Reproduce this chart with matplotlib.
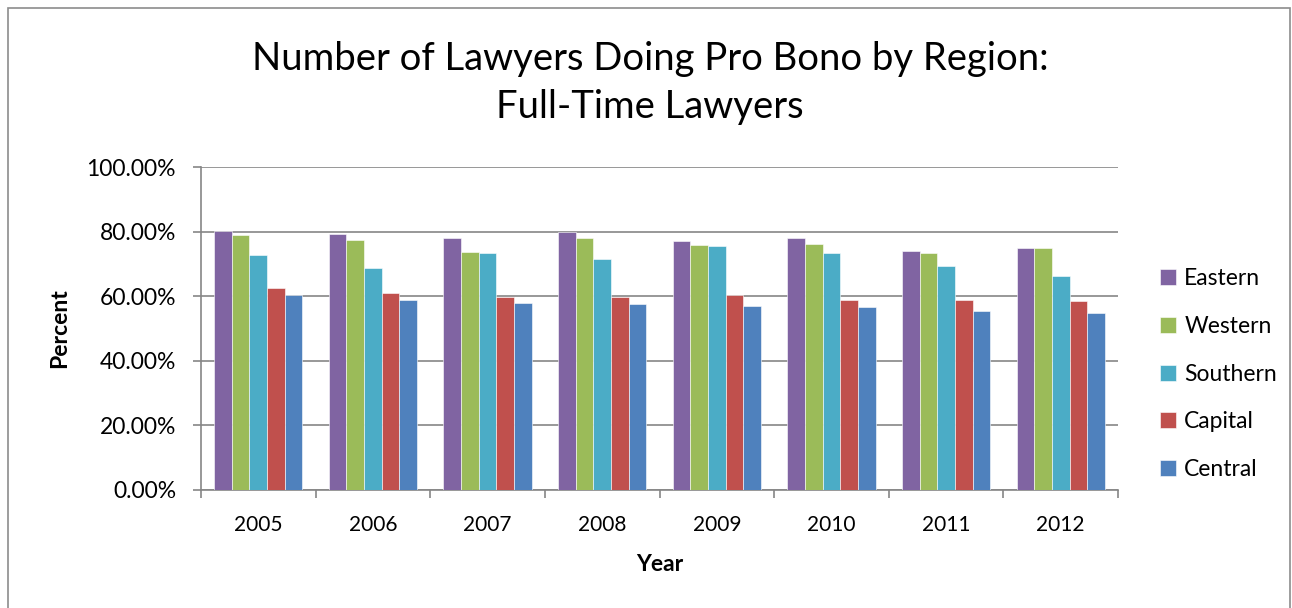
import numpy as np
import matplotlib.pyplot as plt
from matplotlib.ticker import FuncFormatter, FixedLocator
from matplotlib.patches import Rectangle

plt.rcParams['font.family'] = ['Lato', 'DejaVu Sans']

years = ["2005", "2006", "2007", "2008", "2009", "2010", "2011", "2012"]
regions = ["Eastern", "Western", "Southern", "Capital", "Central"]
eastern = [80.2, 79.4, 78.1, 80.0, 77.1, 78.1, 74.1, 74.9]
western = [78.9, 77.5, 73.8, 78.0, 75.9, 76.3, 73.4, 74.9]
southern = [72.8, 68.7, 73.3, 71.4, 75.4, 73.5, 69.3, 66.1]
capital = [62.6, 61.0, 59.8, 59.8, 60.3, 58.8, 58.8, 58.6]
central = [60.4, 58.8, 57.9, 57.5, 56.9, 56.8, 55.3, 54.7]
series = [eastern, western, southern, capital, central]
colors = ["#8064A2", "#9BBB59", "#4BACC6", "#C0504D", "#4F81BD"]

fig = plt.figure(figsize=(12.92, 6.08), dpi=100)
fig.patches.append(Rectangle((8 / 1292, -0.01), 1282 / 1292, 1 - 8 / 608 + 0.01,
                             transform=fig.transFigure, fill=False,
                             edgecolor="#8c8c8c", linewidth=1.2))

ax = fig.add_axes([201 / 1292, 1 - 490 / 608, 917 / 1292, 323 / 608])

x = np.arange(len(years))
w = 0.77 / 5
for i, (vals, c, name) in enumerate(zip(series, colors, regions)):
    ax.bar(x - 0.385 + w * (i + 0.5), vals, width=w, color=c, label=name,
           edgecolor="white", linewidth=0.4, zorder=3)

ax.set_xlim(-0.5, len(years) - 0.5)
ax.set_ylim(0, 100)
ax.set_yticks(np.arange(0, 101, 20))
ax.yaxis.set_major_formatter(FuncFormatter(lambda v, p: f"{v:.2f}%"))
ax.set_xticks(x)
ax.set_xticklabels(years)
ax.xaxis.set_minor_locator(FixedLocator(np.arange(-0.5, len(years), 1)))
ax.tick_params(axis="x", which="major", length=0, labelsize=15, pad=18)
ax.tick_params(axis="x", which="minor", length=6, color="#868686", width=1.2)
ax.tick_params(axis="y", length=6, color="#868686", width=1.2, labelsize=16.5, pad=12)

ax.grid(axis="y", color="#868686", linewidth=1.2, zorder=0)
for s in ["top", "right"]:
    ax.spines[s].set_visible(False)
for s in ["left", "bottom"]:
    ax.spines[s].set_color("#868686")
    ax.spines[s].set_linewidth(1.2)

ax.set_xlabel("Year", fontsize=16.5, fontweight="bold", labelpad=14)
ax.set_ylabel("Percent", fontsize=16.5, fontweight="bold", labelpad=12)

fig.text(0.503, 1 - 83 / 608, "Number of Lawyers Doing Pro Bono by Region:\nFull-Time Lawyers",
         ha="center", va="center", fontsize=27.5, linespacing=1.4)

ax.legend(loc="center left", bbox_to_anchor=(1.046, 0.359), frameon=False,
          borderpad=0, borderaxespad=0,
          fontsize=16.5, handlelength=0.7, handleheight=0.7, handletextpad=0.35,
          labelspacing=1.17)

fig.savefig("out.png", dpi=100)
